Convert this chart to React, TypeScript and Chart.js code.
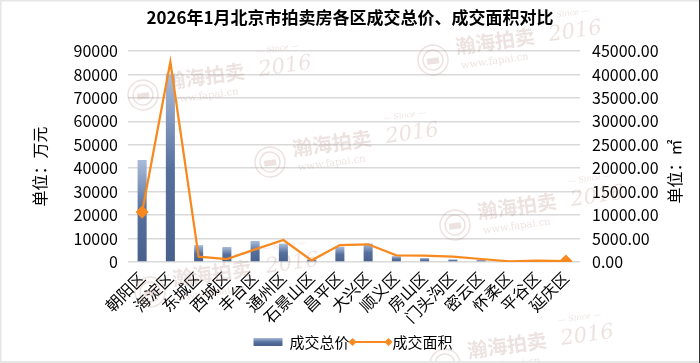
import { useEffect, useRef } from "react";
import { Chart, registerables } from "chart.js";

Chart.register(...registerables);

const titleText = "2026年1月北京市拍卖房各区成交总价、成交面积对比";
const districts = ["朝阳区", "海淀区", "东城区", "西城区", "丰台区", "通州区", "石景山区", "昌平区", "大兴区", "顺义区", "房山区", "门头沟区", "密云区", "怀柔区", "平谷区", "延庆区"];
const totalPrice = [43500, 80000, 7200, 6400, 9000, 7800, 1100, 6500, 7900, 2500, 1700, 1150, 850, 150, 400, 150];
const totalArea = [10650, 42700, 1130, 600, 2700, 4690, 360, 3620, 3770, 1420, 1350, 1130, 640, 150, 280, 210];
const seriesNames = ["成交总价", "成交面积"];
const leftAxisTitle = "单位：万元";
const rightAxisTitle = "单位：㎡";
const leftMax = 90000;
const leftStep = 10000;
const rightMax = 45000;
const rightStep = 5000;
const watermarkMain = "瀚海拍卖";
const watermarkYear = "2016";
const watermarkSince = "— Since —";
const watermarkUrl = "www.fapai.cn";

const FONT = '"Noto Sans CJK SC", "Noto Sans", sans-serif';
const BAR_DARK = "#4a628d";
const LINE_COLOR = "#F7891F";

function barGradient(ctx: CanvasRenderingContext2D, top: number, bottom: number) {
  const g = ctx.createLinearGradient(0, top, 0, bottom);
  g.addColorStop(0, "#aabcda");
  g.addColorStop(0.5, "#56709e");
  g.addColorStop(1, "#48608b");
  return g;
}

function drawMark(ctx: CanvasRenderingContext2D, x: number, y: number) {
  ctx.save();
  ctx.translate(x, y);
  ctx.rotate((-8 * Math.PI) / 180);
  const col = "rgba(185,155,145,0.28)";
  ctx.fillStyle = col;
  ctx.strokeStyle = col;
  ctx.lineWidth = 1.5;
  ctx.beginPath();
  ctx.arc(0, 0, 15, 0, Math.PI * 2);
  ctx.stroke();
  ctx.beginPath();
  ctx.arc(0, 0, 10, 0, Math.PI * 2);
  ctx.stroke();
  ctx.fillRect(-6, -2, 12, 6);
  ctx.textBaseline = "middle";
  ctx.textAlign = "left";
  ctx.font = 'bold 20px "Noto Sans CJK SC", sans-serif';
  ctx.fillText(watermarkMain, 24, -10);
  ctx.font = 'italic 21px "DejaVu Serif", serif';
  ctx.fillText(watermarkYear, 118, -8);
  ctx.font = 'italic 8px "DejaVu Serif", serif';
  ctx.fillText(watermarkSince, 118, -27);
  ctx.font = '10px "DejaVu Serif", serif';
  ctx.fillText(watermarkUrl, 27, 10);
  ctx.restore();
}

const marks: [number, number][] = [
  [143, 95],
  [270, 162],
  [433, 60],
  [455, 225],
  [150, 292],
  [445, 364],
];

const decorPlugin = {
  id: "decor",
  beforeDraw(chart: any) {
    const ctx = chart.ctx as CanvasRenderingContext2D;
    ctx.save();
    ctx.fillStyle = "#ffffff";
    ctx.fillRect(0, 0, chart.width, chart.height);
    ctx.restore();
  },
  beforeDatasetsDraw(chart: any) {
    const ctx = chart.ctx as CanvasRenderingContext2D;
    marks.forEach(([x, y]) => drawMark(ctx, x, y));
  },
  afterDraw(chart: any) {
    const ctx = chart.ctx as CanvasRenderingContext2D;
    const ca = chart.chartArea;
    ctx.save();
    ctx.fillStyle = "#000";
    ctx.font = `16px ${FONT}`;
    ctx.textAlign = "center";
    ctx.textBaseline = "middle";
    ctx.save();
    ctx.translate(40, (ca.top + ca.bottom) / 2 + 10);
    ctx.rotate(-Math.PI / 2);
    ctx.fillText(leftAxisTitle, 0, 0);
    ctx.restore();
    ctx.save();
    ctx.translate(675, (ca.top + ca.bottom) / 2 + 15);
    ctx.rotate(-Math.PI / 2);
    ctx.fillText(rightAxisTitle, 0, 0);
    ctx.restore();

    // legend
    ctx.font = `15px ${FONT}`;
    ctx.textAlign = "left";
    const w1 = ctx.measureText(seriesNames[0]).width;
    const w2 = ctx.measureText(seriesNames[1]).width;
    const boxW = 29, gap1 = 7, gap2 = 3, lineW = 36, gap3 = 4;
    const total = boxW + gap1 + w1 + gap2 + lineW + gap3 + w2;
    let x = chart.width / 2 + 3 - total / 2;
    const ly = 342;
    ctx.fillStyle = barGradient(ctx, ly - 4, ly + 4);
    ctx.fillRect(x, ly - 4, boxW, 8);
    x += boxW + gap1;
    ctx.fillStyle = "#000";
    ctx.fillText(seriesNames[0], x, ly);
    x += w1 + gap2;
    ctx.strokeStyle = LINE_COLOR;
    ctx.lineWidth = 2;
    ctx.beginPath();
    ctx.moveTo(x, ly);
    ctx.lineTo(x + lineW, ly);
    ctx.stroke();
    ctx.fillStyle = LINE_COLOR;
    [x, x + lineW].forEach((px) => {
      ctx.beginPath();
      ctx.moveTo(px, ly - 4);
      ctx.lineTo(px + 4, ly);
      ctx.lineTo(px, ly + 4);
      ctx.lineTo(px - 4, ly);
      ctx.closePath();
      ctx.fill();
    });
    x += lineW + gap3;
    ctx.fillStyle = "#000";
    ctx.fillText(seriesNames[1], x, ly);

    // outer border
    ctx.fillStyle = "#e6e6e6";
    ctx.fillRect(0, 0, chart.width, 1.5);
    ctx.fillRect(0, 0, 1.5, chart.height);
    ctx.fillRect(0, chart.height - 2, chart.width, 2);
    ctx.fillStyle = "#333";
    ctx.fillRect(chart.width - 1, 0, 1, chart.height);
    ctx.restore();
  },
};

export default function App() {
  const ref = useRef<HTMLCanvasElement>(null);
  useEffect(() => {
    const canvas = ref.current;
    if (!canvas) return;
    const chart = new Chart(canvas, {
      type: "bar",
      data: {
        labels: districts,
        datasets: [
          {
            type: "line",
            label: seriesNames[1],
            data: totalArea,
            yAxisID: "y1",
            borderColor: LINE_COLOR,
            backgroundColor: LINE_COLOR,
            borderWidth: 2.25,
            tension: 0,
            pointStyle: "rectRot",
            pointRadius: totalArea.map((_, i) => (i === 0 || i === totalArea.length - 1 ? 5 : 0)),
            pointBackgroundColor: LINE_COLOR,
            pointBorderColor: LINE_COLOR,
            clip: 0,
            order: 0,
          } as any,
          {
            type: "bar",
            label: seriesNames[0],
            data: totalPrice,
            yAxisID: "y",
            order: 1,
            barPercentage: 0.32,
            categoryPercentage: 1,
            backgroundColor: (c: any) => {
              const ch = c.chart;
              if (!ch.chartArea || c.type !== "data") return BAR_DARK;
              const ys = ch.scales.y;
              const top = ys.getPixelForValue(c.raw as number);
              const bottom = ys.getPixelForValue(0);
              if (!isFinite(top) || !isFinite(bottom) || bottom - top < 1) return BAR_DARK;
              return barGradient(ch.ctx, top, bottom);
            },
          } as any,
        ],
      },
      options: {
        animation: false,
        responsive: true,
        maintainAspectRatio: false,
        layout: { padding: { left: 0, right: 0, top: 0, bottom: 30 } },
        plugins: {
          legend: { display: false },
          tooltip: { enabled: false },
          title: {
            display: true,
            text: titleText,
            color: "#000",
            font: { family: FONT, size: 17, weight: "bold", lineHeight: 1.2 },
            padding: { top: 7, bottom: 23.6 },
          },
        },
        scales: {
          x: {
            grid: { display: false, drawTicks: false },
            border: { display: false },
            ticks: {
              color: "#000",
              font: { family: FONT, size: 16 },
              maxRotation: 45,
              minRotation: 45,
              autoSkip: false,
              padding: 6,
            },
            afterFit: (s: any) => {
              s.height = 363 - 262 - 30;
            },
          },
          y: {
            position: "left",
            min: 0,
            max: leftMax,
            ticks: {
              stepSize: leftStep,
              color: "#000",
              font: { family: FONT, size: 16 },
              padding: 10,
              callback: (v: any) => String(v),
            },
            grid: { color: "#d9d9d9", lineWidth: 1.5, drawTicks: false },
            border: { display: false },
            afterFit: (s: any) => {
              s.width = 128;
            },
          },
          y1: {
            position: "right",
            min: 0,
            max: rightMax,
            ticks: {
              stepSize: rightStep,
              color: "#000",
              font: { family: FONT, size: 16 },
              padding: 12,
              callback: (v: any) => Number(v).toFixed(2),
            },
            grid: { drawOnChartArea: false, drawTicks: false },
            border: { display: false },
            afterFit: (s: any) => {
              s.width = 120;
            },
          },
        },
      } as any,
      plugins: [decorPlugin],
    });
    return () => chart.destroy();
  }, []);
  return (
    <div style={{ position: "fixed", left: 0, top: 0, width: 700, height: 363 }}>
      <canvas ref={ref} style={{ display: "block" }} />
    </div>
  );
}
